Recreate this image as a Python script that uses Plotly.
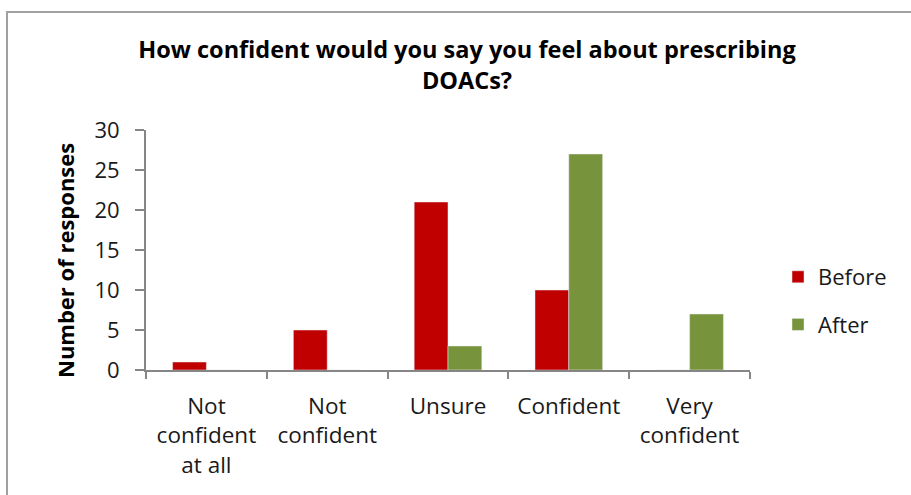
import plotly.graph_objects as go

categories = ["Not<br>confident<br>at all", "Not<br>confident", "Unsure", "Confident", "Very<br>confident"]
before = [1, 5, 21, 10, 0]
after = [0, 0, 3, 27, 7]
y_ticks = [0, 5, 10, 15, 20, 25, 30]

FONT = "Open Sans"
L, R, T, B = 146, 161, 130, 125
W, H = 911, 495
pw, ph = W - L - R, H - T - B

def px(x):
    return (x - L) / pw

def py(y):
    return (H - B - y) / ph

fig = go.Figure()
fig.add_trace(go.Bar(x=categories, y=before, name="Before", marker_color="#C00000",
                     legendgroup="a"))
fig.add_trace(go.Bar(x=categories, y=after, name="After", marker_color="#77933C",
                     legendgroup="b"))

fig.update_layout(
    width=W, height=H,
    margin=dict(l=L, r=R, t=T, b=B, autoexpand=False),
    paper_bgcolor="white", plot_bgcolor="white",
    barmode="group", bargap=0.44, bargroupgap=0,
    font=dict(family=FONT, size=21, color="#1a1a1a"),
    title=dict(text="<b>How confident would you say you feel about prescribing<br>DOACs?</b>",
               x=467 / W, xanchor="center", y=1 - 58 / H, yanchor="middle",
               font=dict(family=FONT, size=23.5, color="#000")),
    showlegend=True,
    legend=dict(x=px(778), xanchor="left", y=py(256), yanchor="top",
                font=dict(family=FONT, size=22, color="#1a1a1a"),
                tracegroupgap=16, itemwidth=30, bgcolor="rgba(0,0,0,0)"),
    xaxis=dict(showline=True, linecolor="#868686", linewidth=2,
               ticks="outside", ticklen=7, tickcolor="#868686", tickwidth=2,
               tickson="boundaries", showgrid=False, ticklabelstandoff=15,
               tickfont=dict(family=FONT, size=22.5, color="#1a1a1a")),
    yaxis=dict(range=[0, 30], tickvals=y_ticks, showline=True, linecolor="#868686", linewidth=2,
               ticks="outside", ticklen=9, tickcolor="#868686", tickwidth=2,
               showgrid=False, zeroline=False, ticklabelstandoff=11,
               tickfont=dict(family=FONT, size=22, color="#1a1a1a")),
    annotations=[dict(text="<b>Number of responses</b>", textangle=-90,
                      xref="paper", yref="paper", x=px(65), y=py(261),
                      xanchor="center", yanchor="middle", showarrow=False,
                      font=dict(family=FONT, size=22, color="#000"))],
    shapes=[dict(type="rect", xref="paper", yref="paper",
                 x0=px(7), x1=px(913), y0=py(500), y1=py(12),
                 line=dict(color="#a0a0a0", width=2), layer="below")],
)

fig.write_html("out.html")
